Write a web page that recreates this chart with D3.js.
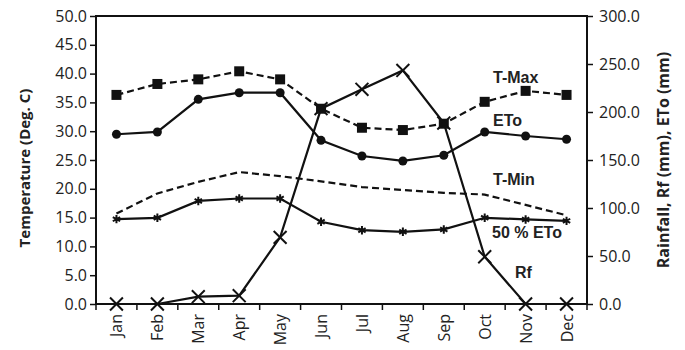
<!DOCTYPE html>
<html>
<head>
<meta charset="utf-8">
<script src="https://cdn.jsdelivr.net/npm/d3@7"></script>
<style>
body { margin: 0; background: #fff; }
text { font-family: "Open Sans", "DejaVu Sans", sans-serif; fill: #222; }
</style>
</head>
<body>
<div id="chart"></div>
<script>
var width = 685;
var height = 350;

// data
var months = ["Jan", "Feb", "Mar", "Apr", "May", "Jun", "Jul", "Aug", "Sep", "Oct", "Nov", "Dec"];
var tMax = [36.3, 38.2, 39.0, 40.4, 39.0, 33.9, 30.6, 30.2, 31.3, 35.1, 37.0, 36.3];
var tMin = [15.7, 19.2, 21.2, 22.9, 22.2, 21.3, 20.3, 19.8, 19.3, 19.0, 17.2, 15.4];
var eto = [176.8, 179.2, 213.2, 220.1, 220.1, 170.5, 154.2, 149.0, 154.9, 179.2, 175.0, 171.6];
var eto50 = [88.4, 89.8, 107.4, 109.9, 109.9, 85.6, 76.9, 75.2, 77.7, 89.8, 88.1, 86.6];
var rf = [0, 0, 7.6, 8.7, 69.4, 203.5, 223.6, 243.3, 188.5, 49.2, 0, 0];
var leftTicks = [0, 5, 10, 15, 20, 25, 30, 35, 40, 45, 50];
var rightTicks = [0, 50, 100, 150, 200, 250, 300];

var margin = {top: 16, right: 98, bottom: 46, left: 96};
var w = width - margin.left - margin.right;
var h = height - margin.top - margin.bottom;

var svg = d3.select("#chart").append("svg")
    .attr("width", width)
    .attr("height", height)
    .append("g")
    .attr("transform", "translate(" + margin.left + "," + margin.top + ")");

var x = d3.scaleBand().domain(months).range([0, w]);
var yL = d3.scaleLinear().domain([0, 50]).range([h, 0]);
var yR = d3.scaleLinear().domain([0, 300]).range([h, 0]);

function cx(d, i) { return x(months[i]) + x.bandwidth() / 2; }

// frame
svg.append("rect")
    .attr("width", w).attr("height", h)
    .attr("fill", "none").attr("stroke", "#111").attr("stroke-width", 2);

// left axis
var axL = svg.append("g")
    .call(d3.axisLeft(yL).tickValues(leftTicks).tickSize(6).tickFormat(d3.format(".1f")));
axL.select(".domain").remove();
axL.selectAll("line").attr("stroke", "#111").attr("stroke-width", 1.5);
axL.selectAll("text").style("font-size", "16px").attr("x", -9).attr("fill", "#222");

// right axis
var axR = svg.append("g")
    .attr("transform", "translate(" + w + ",0)")
    .call(d3.axisRight(yR).tickValues(rightTicks).tickSize(6).tickFormat(d3.format(".1f")));
axR.select(".domain").remove();
axR.selectAll("line").attr("stroke", "#111").attr("stroke-width", 1.5);
axR.selectAll("text").style("font-size", "16px").attr("x", 12).attr("fill", "#222");

// bottom axis: ticks between months
var xb = svg.append("g").attr("transform", "translate(0," + h + ")");
xb.selectAll("line.tk")
    .data(d3.range(months.length + 1))
    .enter().append("line")
    .attr("class", "tk")
    .attr("x1", function (d) { return d * x.step(); })
    .attr("x2", function (d) { return d * x.step(); })
    .attr("y1", 0).attr("y2", 6)
    .attr("stroke", "#111").attr("stroke-width", 1.5);
xb.selectAll("text")
    .data(months)
    .enter().append("text")
    .attr("transform", function (d) {
        return "translate(" + (x(d) + x.bandwidth() / 2 + 6) + ",10) rotate(-90)";
    })
    .attr("text-anchor", "end")
    .style("font-size", "16px")
    .text(function (d) { return d; });

// axis titles
svg.append("text")
    .attr("transform", "translate(-66," + (h / 2 + 8) + ") rotate(-90)")
    .attr("text-anchor", "middle")
    .style("font-size", "15px").style("font-weight", "bold")
    .text("Temperature (Deg. C)");
svg.append("text")
    .attr("transform", "translate(" + (w + 82) + "," + (h / 2) + ") rotate(-90)")
    .attr("text-anchor", "middle")
    .style("font-size", "16px").style("font-weight", "bold")
    .text("Rainfall, Rf (mm), ETo (mm)");

function drawLine(values, y, dash) {
    var line = d3.line().x(cx).y(function (d) { return y(d); });
    svg.append("path")
        .datum(values)
        .attr("d", line)
        .attr("fill", "none")
        .attr("stroke", "#111")
        .attr("stroke-width", 2.2)
        .attr("stroke-dasharray", dash || null);
}

// lines
drawLine(tMin, yL, "7,4");
drawLine(tMax, yL, "7,4");
drawLine(eto, yR);
drawLine(eto50, yR);
drawLine(rf, yR);

// T-Max squares
svg.selectAll("rect.sq")
    .data(tMax).enter().append("rect")
    .attr("class", "sq")
    .attr("x", function (d, i) { return cx(d, i) - 5; })
    .attr("y", function (d) { return yL(d) - 5; })
    .attr("width", 10).attr("height", 10)
    .attr("fill", "#111");

// ETo circles
svg.selectAll("circle.et")
    .data(eto).enter().append("circle")
    .attr("class", "et")
    .attr("cx", cx)
    .attr("cy", function (d) { return yR(d); })
    .attr("r", 4.5)
    .attr("fill", "#111");

// 50% ETo asterisks
var star = d3.symbol().type(d3.symbolAsterisk).size(50);
svg.selectAll("path.st")
    .data(eto50).enter().append("path")
    .attr("class", "st")
    .attr("d", star)
    .attr("transform", function (d, i) { return "translate(" + cx(d, i) + "," + yR(d) + ")"; })
    .attr("fill", "none").attr("stroke", "#111").attr("stroke-width", 2);

// Rf crosses
var cross = d3.symbol().type(d3.symbolTimes).size(110);
svg.selectAll("path.rf")
    .data(rf).enter().append("path")
    .attr("class", "rf")
    .attr("d", cross)
    .attr("transform", function (d, i) { return "translate(" + cx(d, i) + "," + yR(d) + ")"; })
    .attr("fill", "none").attr("stroke", "#111").attr("stroke-width", 2);

// series labels
var labels = [
    {t: "T-Max", x: 397, y: 67},
    {t: "ETo", x: 397, y: 110},
    {t: "T-Min", x: 397, y: 169},
    {t: "50 % ETo", x: 396, y: 222},
    {t: "Rf", x: 419, y: 262}
];
svg.selectAll("text.lb")
    .data(labels).enter().append("text")
    .attr("class", "lb")
    .attr("x", function (d) { return d.x; })
    .attr("y", function (d) { return d.y; })
    .style("font-family", "'Liberation Sans', Arial, sans-serif")
    .style("font-size", "16px").style("font-weight", "bold")
    .text(function (d) { return d.t; });
</script>
</body>
</html>
